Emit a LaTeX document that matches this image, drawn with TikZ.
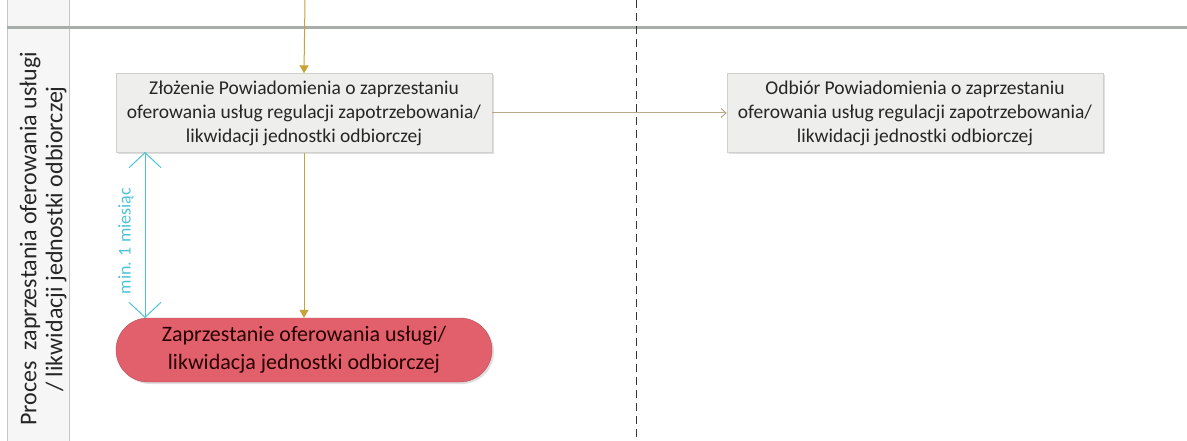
\documentclass[tikz,border=0pt]{standalone}
\usepackage{fontspec}
\setmainfont{Carlito}
\usepackage{tikz}
\usetikzlibrary{arrows.meta,shadows}

\definecolor{goldline}{HTML}{C8A23A}
\definecolor{tanline}{HTML}{B8A88A}
\definecolor{boxfill}{HTML}{EEEEEC}
\definecolor{boxdraw}{HTML}{CFCFCB}
\definecolor{endfill}{HTML}{E2606C}
\definecolor{dimcyan}{HTML}{4CC3D6}
\definecolor{lanegray}{HTML}{A9ADA9}

\tikzset{
  taskbox/.style={draw=boxdraw,fill=boxfill,minimum width=376pt,minimum height=79pt,inner xsep=2pt,
    align=center,font=\fontsize{19.5}{24}\selectfont,text=black!85,
    drop shadow={opacity=0.25,shadow xshift=2pt,shadow yshift=-2pt}},
  endbox/.style={draw=endfill!80!black,fill=endfill,rounded corners=32pt,minimum width=376pt,
    minimum height=64pt,align=center,font=\fontsize{22}{28}\selectfont,text=black!85!red,
    drop shadow={opacity=0.25,shadow xshift=2pt,shadow yshift=-2pt}},
  flow/.style={goldline,line width=1pt,-{Triangle[width=9pt,length=8pt]}},
}

\begin{document}
\begin{tikzpicture}[x=1pt,y=1pt]
\useasboundingbox (0,0) rectangle (1187,-441);
% lane header
\fill[gray!7] (7,0) rectangle (69,-441);
\draw[lanegray!70,line width=1pt] (7,0)--(7,-441) (69,0)--(69,-441);
\draw[lanegray,line width=3pt] (7,-28)--(1187,-28);
\node[rotate=90,align=center,font=\fontsize{24}{26}\selectfont,text=black!85] (lane) at (43,-239)
  {Proces\ \ zaprzestania oferowania usługi\\/ likwidacji jednostki odbiorczej};
% separator
\draw[black!80,line width=0.8pt,dash pattern=on 8pt off 5pt] (636,0)--(636,-441);
% nodes
\coordinate (top) at (305,0);
\node[taskbox] (zlozenie) at (304,-113)
  {Złożenie Powiadomienia o zaprzestaniu\\oferowania usług regulacji zapotrzebowania/\\likwidacji jednostki odbiorczej};
\node[taskbox] (odbior) at (915,-113)
  {Odbiór Powiadomienia o zaprzestaniu\\oferowania usług regulacji zapotrzebowania/\\likwidacji jednostki odbiorczej};
\node[endbox] (koniec) at (304,-350)
  {Zaprzestanie oferowania usługi/\\likwidacja jednostki odbiorczej};
% connectors
\draw[flow] (top)--(zlozenie.north);
\draw[flow] (zlozenie.south)--(koniec.north);
\draw[tanline,line width=1pt,-{Straight Barb[width=9pt,length=5pt]}] (zlozenie.east)--(odbior.west);
\coordinate (d1) at (145,-152);
\coordinate (d2) at (145,-318);
\draw[dimcyan,line width=1pt,{Straight Barb[width=32pt,length=15pt]}-{Straight Barb[width=32pt,length=15pt]}] (d1)--(d2);
\node[rotate=90,font=\fontsize{18}{20}\selectfont,text=dimcyan] (mies) at (126,-241) {min. 1 miesiąc};
\end{tikzpicture}
\end{document}
